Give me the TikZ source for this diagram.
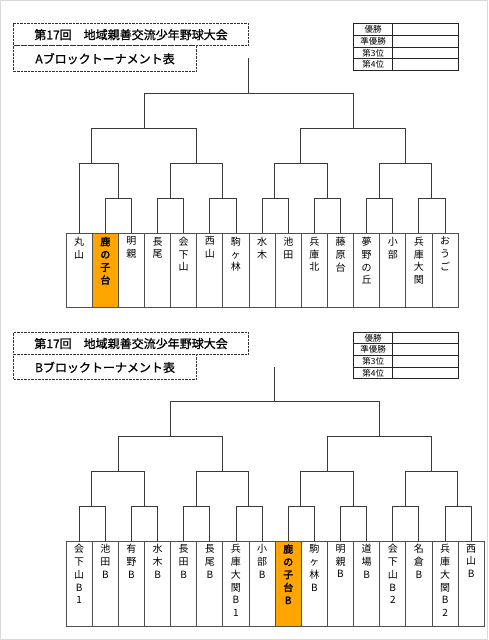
\documentclass[tikz,border=0pt]{standalone}
\usepackage{fontspec}
\newfontfamily\cjk{Noto Sans CJK JP}
\newfontfamily\cjkbold[FakeBold=2.5]{Noto Sans CJK JP}
\newfontfamily\cjktitle[FakeBold=1]{Noto Sans CJK JP}
\definecolor{linegray}{HTML}{3A3A3A}
\definecolor{boxgray}{HTML}{505050}
\definecolor{hiorange}{RGB}{255,165,0}
\definecolor{framegray}{HTML}{D8D8D8}
\tikzset{
  bracket/.style={draw=linegray, line width=0.9pt},
  titlebox/.style={draw=black!80, line width=1.1pt, dash pattern=on 2.5pt off 1pt, inner sep=0, anchor=north west, font={\cjktitle\fontsize{12}{14}\selectfont}},
  tcell/.style={draw=black!85, line width=0.8pt, inner sep=0, anchor=north west, minimum height=11.67pt, font={\cjk\fontsize{8.5}{10}\selectfont}},
  teamboxA/.style={draw=boxgray, line width=0.9pt, inner sep=0, anchor=north west, minimum width=26.13pt, minimum height=73.7pt},
  teamboxB/.style={draw=boxgray, line width=0.9pt, inner sep=0, anchor=north west, minimum width=26.13pt, minimum height=85.3pt},
  boxnm/.style={fill=white},
  boxhi/.style={fill=hiorange},
  teamtxt/.style={anchor=north, inner sep=0, align=center},
  txtnm/.style={font={\cjk\fontsize{10}{12.8}\selectfont}},
  txthi/.style={font={\cjkbold\fontsize{10}{12.8}\selectfont}},
}
\begin{document}
\begin{tikzpicture}[x=1pt,y=-1pt]
\useasboundingbox (0,0) rectangle (488,640);
\draw[framegray, line width=1pt] (0.5,0.5) rectangle (487.5,639.5);

% ================= Block A =================
\node[titlebox, minimum width=235pt, minimum height=22.3pt] (titA1) at (13,23) {第17回　地域親善交流少年野球大会};
\node[titlebox, minimum width=183pt, minimum height=25.7pt] (titA2) at (13,45.3) {Aブロックトーナメント表};

\node[tcell, minimum width=39pt] (rA1l) at (353.3,23.3) {優勝};
\node[tcell, minimum width=65.4pt] (rA1v) at (392.3,23.3) {};
\node[tcell, minimum width=39pt] (rA2l) at (353.3,35) {準優勝};
\node[tcell, minimum width=65.4pt] (rA2v) at (392.3,35) {};
\node[tcell, minimum width=39pt] (rA3l) at (353.3,46.7) {第3位};
\node[tcell, minimum width=65.4pt] (rA3v) at (392.3,46.7) {};
\node[tcell, minimum width=39pt] (rA4l) at (353.3,58.3) {第4位};
\node[tcell, minimum width=65.4pt] (rA4v) at (392.3,58.3) {};

\foreach \i/\n/\s in {0/{丸\\山}/nm, 1/{鹿\\の\\子\\台}/hi, 2/{明\\親}/nm, 3/{長\\尾}/nm,
  4/{会\\下\\山}/nm, 5/{西\\山}/nm, 6/{駒\\ヶ\\林}/nm, 7/{水\\木}/nm, 8/{池\\田}/nm,
  9/{兵\\庫\\北}/nm, 10/{藤\\原\\台}/nm, 11/{夢\\野\\の\\丘}/nm, 12/{小\\部}/nm,
  13/{兵\\庫\\大\\関}/nm, 14/{お\\う\\ご}/nm}{
  \node[teamboxA, box\s] (A\i) at ({65.7+26.13*\i},233.3) {};
  \node[teamtxt, txt\s] (At\i) at ([yshift=-3.5pt]A\i.north) {\n};
}

% level 1
\coordinate (a1) at (118.0,198.3);
\coordinate (a2) at (170.2,198.3);
\coordinate (a3) at (222.5,198.3);
\coordinate (a4) at (274.8,198.3);
\coordinate (a5) at (327.0,198.3);
\coordinate (a6) at (379.3,198.3);
\coordinate (a7) at (431.5,198.3);
% level 2
\coordinate (b1) at (91.7,163.3);
\coordinate (b2) at (196.4,163.3);
\coordinate (b3) at (300.9,163.3);
\coordinate (b4) at (405.4,163.3);
% level 3
\coordinate (c1) at (144.2,128.3);
\coordinate (c2) at (353.2,128.3);
% level 4
\coordinate (dA) at (248.7,93.3);
\coordinate (topA) at (248.7,58.3);

\draw[bracket] (A1.north) |- (a1) -| (A2.north);
\draw[bracket] (A3.north) |- (a2) -| (A4.north);
\draw[bracket] (A5.north) |- (a3) -| (A6.north);
\draw[bracket] (A7.north) |- (a4) -| (A8.north);
\draw[bracket] (A9.north) |- (a5) -| (A10.north);
\draw[bracket] (A11.north) |- (a6) -| (A12.north);
\draw[bracket] (A13.north) |- (a7) -| (A14.north);
\draw[bracket] (A0.north) |- (b1) -| (a1);
\draw[bracket] (a2) |- (b2) -| (a3);
\draw[bracket] (a4) |- (b3) -| (a5);
\draw[bracket] (a6) |- (b4) -| (a7);
\draw[bracket] (b1) |- (c1) -| (b2);
\draw[bracket] (b3) |- (c2) -| (b4);
\draw[bracket] (c1) |- (dA) -| (c2);
\draw[bracket] (dA) -- (topA);

% ================= Block B =================
\node[titlebox, minimum width=235pt, minimum height=22.6pt] (titB1) at (13,331.7) {第17回　地域親善交流少年野球大会};
\node[titlebox, minimum width=183pt, minimum height=25pt] (titB2) at (13,354.3) {Bブロックトーナメント表};

\node[tcell, minimum width=39pt] (rB1l) at (353.3,331.7) {優勝};
\node[tcell, minimum width=65.4pt] (rB1v) at (392.3,331.7) {};
\node[tcell, minimum width=39pt] (rB2l) at (353.3,343.3) {準優勝};
\node[tcell, minimum width=65.4pt] (rB2v) at (392.3,343.3) {};
\node[tcell, minimum width=39pt] (rB3l) at (353.3,355) {第3位};
\node[tcell, minimum width=65.4pt] (rB3v) at (392.3,355) {};
\node[tcell, minimum width=39pt] (rB4l) at (353.3,366.7) {第4位};
\node[tcell, minimum width=65.4pt] (rB4v) at (392.3,366.7) {};

\foreach \i/\n/\s in {0/{会\\下\\山\\B\\1}/nm, 1/{池\\田\\B}/nm, 2/{有\\野\\B}/nm, 3/{水\\木\\B}/nm,
  4/{長\\田\\B}/nm, 5/{長\\尾\\B}/nm, 6/{兵\\庫\\大\\関\\B\\1}/nm, 7/{小\\部\\B}/nm,
  8/{鹿\\の\\子\\台\\B}/hi, 9/{駒\\ヶ\\林\\B}/nm, 10/{明\\親\\B}/nm, 11/{道\\場\\B}/nm,
  12/{会\\下\\山\\B\\2}/nm, 13/{名\\倉\\B}/nm, 14/{兵\\庫\\大\\関\\B\\2}/nm, 15/{西\\山\\B}/nm}{
  \node[teamboxB, box\s] (B\i) at ({65.7+26.13*\i},540.7) {};
  \node[teamtxt, txt\s] (Bt\i) at ([yshift=-3.5pt]B\i.north) {\n};
}

% level 1
\coordinate (e1) at (91.9,506.7);
\coordinate (e2) at (144.1,506.7);
\coordinate (e3) at (196.4,506.7);
\coordinate (e4) at (248.7,506.7);
\coordinate (e5) at (300.9,506.7);
\coordinate (e6) at (353.2,506.7);
\coordinate (e7) at (405.4,506.7);
\coordinate (e8) at (457.7,506.7);
% level 2
\coordinate (f1) at (118.0,471.7);
\coordinate (f2) at (222.5,471.7);
\coordinate (f3) at (327.0,471.7);
\coordinate (f4) at (431.5,471.7);
% level 3
\coordinate (g1) at (170.3,436.7);
\coordinate (g2) at (379.3,436.7);
% level 4
\coordinate (hB) at (274.8,401.7);
\coordinate (topB) at (274.8,366.7);

\draw[bracket] (B0.north) |- (e1) -| (B1.north);
\draw[bracket] (B2.north) |- (e2) -| (B3.north);
\draw[bracket] (B4.north) |- (e3) -| (B5.north);
\draw[bracket] (B6.north) |- (e4) -| (B7.north);
\draw[bracket] (B8.north) |- (e5) -| (B9.north);
\draw[bracket] (B10.north) |- (e6) -| (B11.north);
\draw[bracket] (B12.north) |- (e7) -| (B13.north);
\draw[bracket] (B14.north) |- (e8) -| (B15.north);
\draw[bracket] (e1) |- (f1) -| (e2);
\draw[bracket] (e3) |- (f2) -| (e4);
\draw[bracket] (e5) |- (f3) -| (e6);
\draw[bracket] (e7) |- (f4) -| (e8);
\draw[bracket] (f1) |- (g1) -| (f2);
\draw[bracket] (f3) |- (g2) -| (f4);
\draw[bracket] (g1) |- (hB) -| (g2);
\draw[bracket] (hB) -- (topB);
\end{tikzpicture}
\end{document}
